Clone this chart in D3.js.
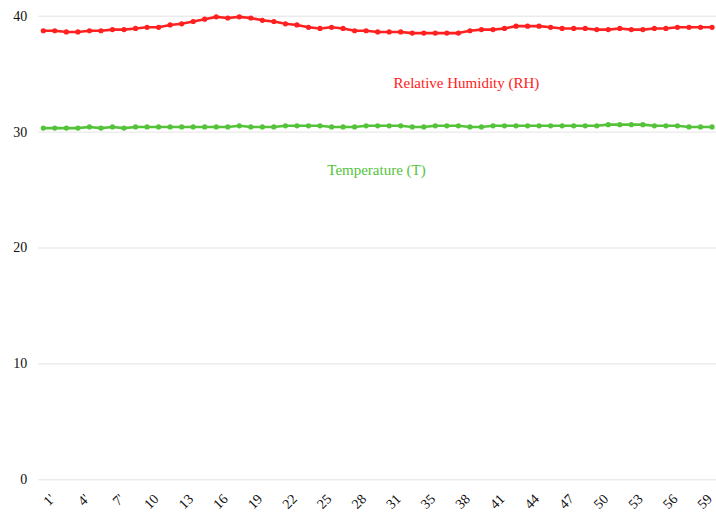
<!DOCTYPE html>
<html>
<head>
<meta charset="utf-8">
<script src="https://cdn.jsdelivr.net/npm/d3@7"></script>
<style>
  html, body { margin: 0; padding: 0; background: #fff; }
  svg { display: block; font-family: "Liberation Serif", "Times New Roman", serif; }
</style>
</head>
<body>
<svg id="chart" width="716" height="515"></svg>
<script>
// Minute readings
const categories = [
  "1'", "2'", "3'", "4'", "5'", "6'", "7'", "8'", "9'",
  "10", "11", "12", "13", "14", "15", "16", "17", "18", "19", "20",
  "21", "22", "23", "24", "25", "26", "27", "28", "29", "30",
  "31", "32", "33", "35", "36", "37", "38", "39", "40",
  "41", "42", "43", "44", "45", "46", "47", "48", "49", "50",
  "51", "52", "53", "54", "55", "56", "57", "58", "59", "60"
];

const humidity = [
  38.7, 38.7, 38.6, 38.6, 38.7, 38.7, 38.8, 38.8, 38.9, 39.0,
  39.0, 39.2, 39.3, 39.5, 39.7, 39.9, 39.8, 39.9, 39.8, 39.6,
  39.5, 39.3, 39.2, 39.0, 38.9, 39.0, 38.9, 38.7, 38.7, 38.6,
  38.6, 38.6, 38.5, 38.5, 38.5, 38.5, 38.5, 38.7, 38.8, 38.8,
  38.9, 39.1, 39.1, 39.1, 39.0, 38.9, 38.9, 38.9, 38.8, 38.8,
  38.9, 38.8, 38.8, 38.9, 38.9, 39.0, 39.0, 39.0, 39.0
];

const temperature = [
  30.3, 30.3, 30.3, 30.3, 30.4, 30.3, 30.4, 30.3, 30.4, 30.4,
  30.4, 30.4, 30.4, 30.4, 30.4, 30.4, 30.4, 30.5, 30.4, 30.4,
  30.4, 30.5, 30.5, 30.5, 30.5, 30.4, 30.4, 30.4, 30.5, 30.5,
  30.5, 30.5, 30.4, 30.4, 30.5, 30.5, 30.5, 30.4, 30.4, 30.5,
  30.5, 30.5, 30.5, 30.5, 30.5, 30.5, 30.5, 30.5, 30.5, 30.6,
  30.6, 30.6, 30.6, 30.5, 30.5, 30.5, 30.4, 30.4, 30.4
];

const yTicks = [0, 10, 20, 30, 40];

const series = [
  { name: "Relative Humidity (RH)", values: humidity, color: "#ff2020", labelAt: [36.7, 33.75] },
  { name: "Temperature (T)", values: temperature, color: "#55c33a", labelAt: [28.9, 26.25] }
];

const svg = d3.select("#chart");
const margin = { top: 15.7, right: 0, bottom: 35.7, left: 38.3 };
const width = 716 - margin.left - margin.right;
const height = 515 - margin.top - margin.bottom;

const g = svg.append("g").attr("transform", `translate(${margin.left},${margin.top})`);

const x = d3.scalePoint()
  .domain(d3.range(categories.length))
  .range([5, 5 + 11.53 * (categories.length - 1)]);

const y = d3.scaleLinear().domain([0, 40]).range([height, 0]);

// Horizontal grid lines with value labels
const yAxis = g.append("g")
  .call(d3.axisLeft(y).tickValues(yTicks).tickSize(-width).tickPadding(11).tickFormat(d3.format("d")));
yAxis.select(".domain").remove();
yAxis.selectAll(".tick line").attr("stroke", "#e3e3e3").attr("stroke-width", 1);
yAxis.selectAll(".tick text")
  .attr("fill", "#111")
  .style("font-size", "14px")
  .style("font-family", "'Liberation Serif', serif");

// Category labels, every third reading, slanted
const xAxis = g.append("g")
  .attr("transform", `translate(0,${height})`);
xAxis.selectAll("text")
  .data(d3.range(0, categories.length, 3))
  .join("text")
  .attr("transform", i => `translate(${x(i) + 9},${17}) rotate(-45)`)
  .attr("text-anchor", "end")
  .attr("dy", "0.35em")
  .attr("fill", "#111")
  .style("font-size", "14px")
  .text(i => categories[i]);

const line = d3.line()
  .x((d, i) => x(i))
  .y(d => y(d));

series.forEach(s => {
  const sg = g.append("g");
  sg.append("path")
    .datum(s.values)
    .attr("fill", "none")
    .attr("stroke", s.color)
    .attr("stroke-width", 2.6)
    .attr("stroke-linejoin", "round")
    .attr("d", line);
  sg.selectAll("circle")
    .data(s.values)
    .join("circle")
    .attr("cx", (d, i) => x(i))
    .attr("cy", d => y(d))
    .attr("r", 2.6)
    .attr("fill", s.color);
  sg.append("text")
    .attr("x", x(0) + s.labelAt[0] * 11.53)
    .attr("y", y(s.labelAt[1]))
    .attr("text-anchor", "middle")
    .attr("fill", s.color)
    .style("font-size", "15px")
    .text(s.name);
});
</script>
</body>
</html>
